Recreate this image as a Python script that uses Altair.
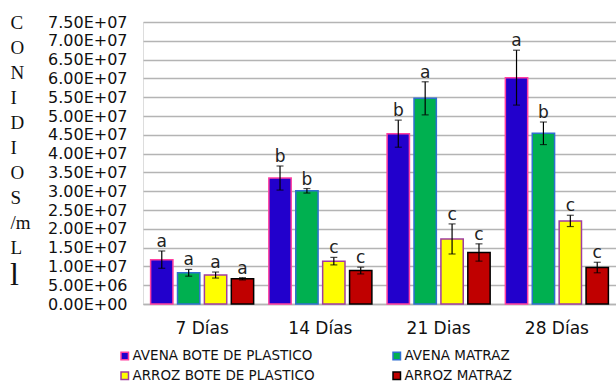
import altair as alt
import pandas as pd

# Conidia counts per treatment and incubation time (mean and standard error)
days = ["7 Días", "14 Días", "21 Dias", "28 Días"]
series = ["AVENA BOTE DE PLASTICO", "AVENA MATRAZ", "ARROZ BOTE DE PLASTICO", "ARROZ MATRAZ"]
# legend entries are laid out column by column
legend_order = ["AVENA BOTE DE PLASTICO", "ARROZ BOTE DE PLASTICO", "AVENA MATRAZ", "ARROZ MATRAZ"]

avena_bote = [1.18e7, 3.35e7, 4.53e7, 6.02e7]
avena_matraz = [8.3e6, 3.01e7, 5.47e7, 4.54e7]
arroz_bote = [7.7e6, 1.14e7, 1.73e7, 2.21e7]
arroz_matraz = [6.7e6, 8.9e6, 1.37e7, 9.7e6]

err_avena_bote = [2.3e6, 3.2e6, 3.6e6, 7.3e6]
err_avena_matraz = [0.9e6, 0.6e6, 4.4e6, 3.0e6]
err_arroz_bote = [0.8e6, 1.0e6, 4.0e6, 1.5e6]
err_arroz_matraz = [0.3e6, 0.9e6, 2.3e6, 1.4e6]

# Significance letters per group
let_avena_bote = ["a", "b", "b", "a"]
let_avena_matraz = ["a", "b", "a", "b"]
let_arroz_bote = ["a", "c", "c", "c"]
let_arroz_matraz = ["a", "c", "c", "c"]

fills = ["#2200CC", "#00B050", "#FFFF00", "#C00000"]
strokes = ["#FF3FA0", "#2F6FD0", "#A03CA0", "#000000"]

values = [avena_bote, avena_matraz, arroz_bote, arroz_matraz]
errors = [err_avena_bote, err_avena_matraz, err_arroz_bote, err_arroz_matraz]
letters = [let_avena_bote, let_avena_matraz, let_arroz_bote, let_arroz_matraz]

rows = []
for s, vals, errs, lets in zip(series, values, errors, letters):
    for d, v, e, l in zip(days, vals, errs, lets):
        rows.append({"dia": d, "serie": s, "valor": v, "lo": v - e, "hi": v + e, "letra": l})
df = pd.DataFrame(rows)

font = "DejaVu Sans"

x = alt.X("dia:N", sort=days, title=None,
          scale=alt.Scale(paddingInner=0.09, paddingOuter=0.045),
          axis=alt.Axis(labelAngle=0, labelFont=font, labelFontSize=17, labelColor="#111",
                        labelPadding=16, ticks=False, domainColor="#b4b4b4", domainWidth=1.5,
                        grid=False))
xoff = alt.XOffset("serie:N", sort=series, scale=alt.Scale(paddingInner=0.17, paddingOuter=0.085))

yscale = alt.Scale(domain=[0, 7.5e7], nice=False)
tick_vals = [i * 5e6 for i in range(16)]

title_lines = ["C", "O", "N", "I", "D", "I", "O", "S", "/m", "L"]

# one y axis definition shared by every layer so the merged axis keeps all ticks
yaxis = alt.Axis(values=tick_vals, labelOverlap=False,
                 labelExpr="replace(format(datum.value, '.2e'), 'e+', 'E+0')",
                 labelFont=font, labelFontSize=16, labelColor="#111",
                 labelPadding=16, ticks=False, domain=False,
                 gridColor="#b4b4b4", gridWidth=1.5,
                 title=title_lines, titleAngle=0, titleAlign="left",
                 titleBaseline="alphabetic", titleX=-133, titleY=6,
                 titleFont="Liberation Serif", titleFontSize=19,
                 titleFontWeight="normal", titleLineHeight=25, titleColor="#111")

legend = alt.Legend(title=None, orient="none", legendX=-25, legendY=327, values=legend_order,
                    columns=2, columnPadding=75, rowPadding=5,
                    symbolType="square", symbolSize=56, symbolStrokeWidth=1.5,
                    labelFont=font, labelFontSize=13.5, labelColor="#111",
                    labelOffset=1, padding=0, labelLimit=400)

bars = alt.Chart(df).mark_bar(strokeWidth=1.5).encode(
    x=x,
    xOffset=xoff,
    y=alt.Y("valor:Q", scale=yscale, axis=yaxis),
    fill=alt.Fill("serie:N", sort=series, scale=alt.Scale(domain=series, range=fills),
                  legend=legend),
    stroke=alt.Stroke("serie:N", sort=series, scale=alt.Scale(domain=series, range=strokes),
                      legend=legend),
)

rules = alt.Chart(df).mark_rule(color="#000", strokeWidth=1.2).encode(
    x=x, xOffset=xoff, y=alt.Y("lo:Q", scale=yscale, axis=yaxis), y2="hi:Q")

caps_hi = alt.Chart(df).mark_tick(color="#000", size=7, thickness=1.2).encode(
    x=x, xOffset=xoff, y=alt.Y("hi:Q", scale=yscale, axis=yaxis))
caps_lo = alt.Chart(df).mark_tick(color="#000", size=7, thickness=1.2).encode(
    x=x, xOffset=xoff, y=alt.Y("lo:Q", scale=yscale, axis=yaxis))

labels = alt.Chart(df).mark_text(font=font, fontSize=17, color="#222", baseline="bottom").encode(
    x=x, xOffset=xoff, y=alt.Y("hi:Q", scale=yscale, axis=yaxis), text="letra:N")

last_letter = alt.Chart(pd.DataFrame({"t": ["l"]})).mark_text(
    font="Liberation Serif", fontSize=32, color="#111", align="left", baseline="alphabetic"
).encode(x=alt.value(-133), y=alt.value(263), text="t:N")

chart = alt.layer(bars, rules, caps_hi, caps_lo, labels, last_letter).properties(
    width=473, height=282,
    autosize=alt.AutoSizeParams(type="none"),
    padding={"left": 143, "top": 22, "right": 0, "bottom": 79},
).configure_view(stroke=None).configure(background="white")

chart.save("out.html", embed_options={"renderer": "svg", "actions": False})
